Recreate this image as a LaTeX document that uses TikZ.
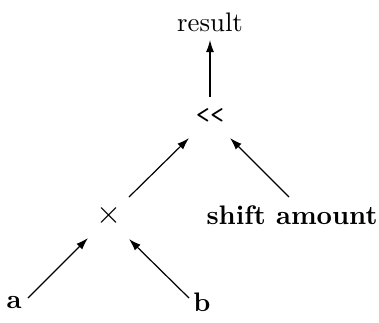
\documentclass[tikz,border=0pt]{standalone}
\usetikzlibrary{arrows.meta,calc}
\begin{document}
\begin{tikzpicture}[x=0.3731pt,y=-0.3731pt,
  lbl/.style={inner sep=0pt},
  arr/.style={-{Latex[length=4.5pt,width=3pt]},line width=0.45pt}]
\useasboundingbox (0,0) rectangle (379,322);
\node[lbl] (res) at (210,22) {result};
\node[lbl] (shl) at (210,116) {\texttt{<<}};
\node[lbl,scale=1.2] (mul) at (109,215) {$\times$};
\node[lbl] (sh) at (292,215) {\textbf{shift amount}};
\node[lbl] (a) at (14,302) {\textbf{a}};
\node[lbl] (b) at (202,302) {\textbf{b}};
\draw[arr] ($(shl.center)+(0,-19)$) -- ($(res.center)+(0,18)$);
\draw[arr] ($(mul.center)+(20,-18)$) -- ($(shl.center)+(-21,22)$);
\draw[arr] ($(sh.center)+(-3,-18)$) -- ($(shl.center)+(20,22)$);
\draw[arr] ($(a.center)+(14,-4)$) -- ($(mul.center)+(-21,23)$);
\draw[arr] ($(b.center)+(-13,-4)$) -- ($(mul.center)+(20,24)$);
\end{tikzpicture}
\end{document}
